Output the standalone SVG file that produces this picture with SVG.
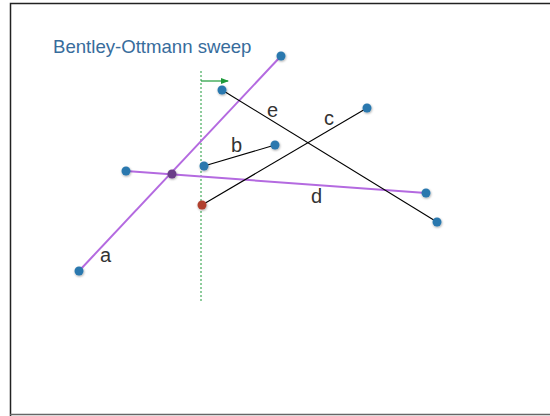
<svg xmlns="http://www.w3.org/2000/svg" width="550" height="416" viewBox="0 0 550 416">
<defs>
<style>
.purple{stroke:#b46ae0;stroke-width:2;fill:none}
.blk{stroke:#000;stroke-width:1.1;fill:none}
.pt{fill:#2a78ae}
.lbl{font-family:"Liberation Sans",Arial,sans-serif;font-size:20px;fill:#333}
</style>
<marker id="ah" viewBox="0 0 8 8" refX="7" refY="4" markerWidth="8" markerHeight="8" markerUnits="userSpaceOnUse" orient="auto"><path d="M0,1 L8,4 L0,7 z" fill="#1e9a3a"/></marker>
<filter id="sh" x="-50%" y="-50%" width="200%" height="200%"><feDropShadow dx="0.5" dy="1" stdDeviation="0.8" flood-color="#000" flood-opacity="0.35"/></filter>
</defs>
<rect x="0" y="0" width="550" height="416" fill="#fff"/>
<path d="M10.5,416 V3.5 H550" fill="none" stroke="#222" stroke-width="1.5"/>
<path d="M10,414.5 H550" stroke="#666" stroke-width="1.5"/>
<text x="53" y="53" font-family="Helvetica,'Liberation Sans',Arial,sans-serif" font-size="18.6" fill="#376c9c">Bentley-Ottmann sweep</text>
<g id="connectors">
<line id="sweep" x1="201" y1="71" x2="201" y2="301" stroke="#1e9a3a" stroke-width="1" stroke-dasharray="2,2"/>
<line id="sweep-dir" x1="201" y1="81" x2="228" y2="81" stroke="#1e9a3a" stroke-width="1.2" marker-end="url(#ah)"/>
<line id="seg-a" class="purple" x1="79" y1="271" x2="281" y2="56"/>
<line id="seg-d" class="purple" x1="126" y1="171" x2="426" y2="193"/>
<line id="seg-e" class="blk" x1="222" y1="90" x2="437" y2="222"/>
<line id="seg-b" class="blk" x1="204" y1="166" x2="275" y2="145"/>
<line id="seg-c" class="blk" x1="202" y1="205" x2="367" y2="108"/>
</g>
<g id="points" filter="url(#sh)">
<circle id="a1" class="pt" cx="79" cy="271" r="4.5"/>
<circle id="a2" class="pt" cx="281" cy="56" r="4.5"/>
<circle id="d1" class="pt" cx="126" cy="171" r="4.5"/>
<circle id="d2" class="pt" cx="426" cy="193" r="4.5"/>
<circle id="e1" class="pt" cx="222" cy="90" r="4.5"/>
<circle id="e2" class="pt" cx="437" cy="222" r="4.5"/>
<circle id="b1" class="pt" cx="204" cy="166" r="4.5"/>
<circle id="b2" class="pt" cx="275" cy="145" r="4.5"/>
<circle id="c2" class="pt" cx="367" cy="108" r="4.5"/>
<circle id="c1" cx="202" cy="205" r="4.5" fill="#b0412f"/>
<circle id="ad" cx="172" cy="174" r="4.5" fill="#6b3d88"/>
</g>
<g id="labels">
<text class="lbl" x="267" y="117">e</text>
<text class="lbl" x="231" y="152">b</text>
<text class="lbl" x="324" y="125">c</text>
<text class="lbl" x="311" y="203">d</text>
<text class="lbl" x="100" y="262">a</text>
</g>
</svg>
